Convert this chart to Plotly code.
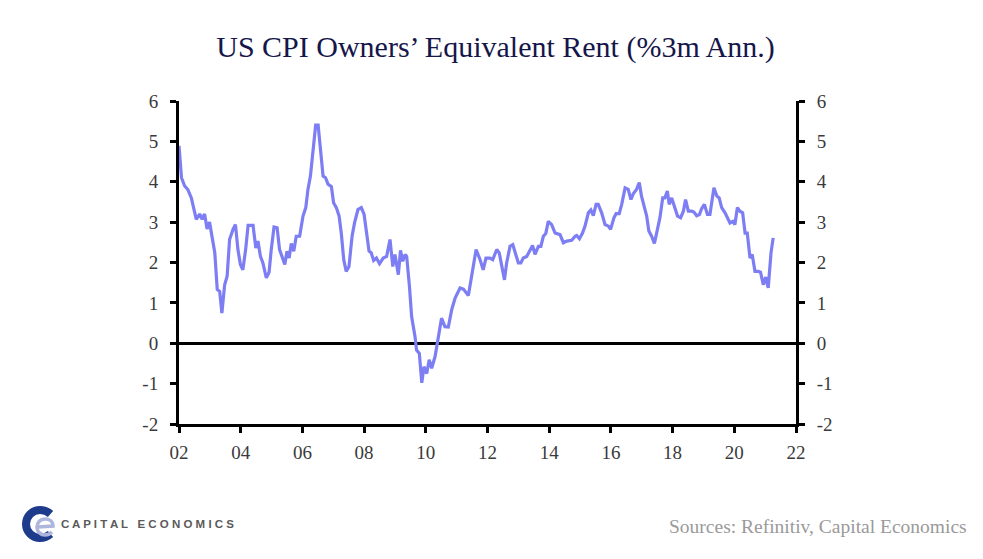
import plotly.graph_objects as go

# ---------- data (decimal years) ----------
years = [
    2002.00, 2002.08, 2002.18, 2002.29, 2002.40, 2002.56, 2002.67, 2002.75, 2002.83, 2002.91,
    2002.99, 2003.10, 2003.16, 2003.24, 2003.32, 2003.39, 2003.48, 2003.56, 2003.64, 2003.75,
    2003.83, 2003.91, 2003.99, 2004.07, 2004.16, 2004.24, 2004.40, 2004.49, 2004.56, 2004.64,
    2004.72, 2004.83, 2004.92, 2004.99, 2005.08, 2005.18, 2005.26, 2005.43, 2005.50, 2005.57,
    2005.64, 2005.72, 2005.80, 2005.91, 2006.02, 2006.11, 2006.18, 2006.26, 2006.34, 2006.43,
    2006.51, 2006.58, 2006.67, 2006.75, 2006.83, 2006.94, 2007.01, 2007.10, 2007.19, 2007.26,
    2007.34, 2007.42, 2007.51, 2007.61, 2007.69, 2007.80, 2007.91, 2008.00, 2008.07, 2008.16,
    2008.23, 2008.31, 2008.40, 2008.50, 2008.62, 2008.73, 2008.84, 2008.93, 2009.00, 2009.11,
    2009.18, 2009.25, 2009.33, 2009.38, 2009.47, 2009.54, 2009.65, 2009.70, 2009.79, 2009.87,
    2009.94, 2010.03, 2010.11, 2010.19, 2010.30, 2010.41, 2010.51, 2010.62, 2010.73, 2010.84,
    2010.95, 2011.11, 2011.22, 2011.38, 2011.49, 2011.63, 2011.76, 2011.86, 2011.95, 2012.08,
    2012.17, 2012.30, 2012.38, 2012.46, 2012.55, 2012.62, 2012.73, 2012.82, 2012.89, 2013.00,
    2013.08, 2013.16, 2013.27, 2013.36, 2013.46, 2013.54, 2013.65, 2013.73, 2013.81, 2013.89,
    2013.97, 2014.08, 2014.19, 2014.35, 2014.46, 2014.57, 2014.73, 2014.84, 2014.89, 2014.98,
    2015.08, 2015.16, 2015.27, 2015.35, 2015.43, 2015.52, 2015.59, 2015.70, 2015.81, 2015.92,
    2015.99, 2016.10, 2016.17, 2016.27, 2016.35, 2016.46, 2016.56, 2016.65, 2016.73, 2016.83,
    2016.92, 2016.99, 2017.07, 2017.16, 2017.23, 2017.32, 2017.41, 2017.48, 2017.59, 2017.68,
    2017.75, 2017.83, 2017.89, 2017.97, 2018.08, 2018.16, 2018.26, 2018.35, 2018.42, 2018.51,
    2018.62, 2018.69, 2018.78, 2018.87, 2018.94, 2019.03, 2019.13, 2019.21, 2019.34, 2019.43,
    2019.51, 2019.59, 2019.70, 2019.77, 2019.86, 2019.95, 2020.02, 2020.10, 2020.18, 2020.27,
    2020.35, 2020.42, 2020.51, 2020.58, 2020.67, 2020.78, 2020.85, 2020.94, 2021.02, 2021.10,
    2021.19, 2021.26,
]
oer = [
    4.89, 4.10, 3.90, 3.80, 3.60, 3.07, 3.20, 3.07, 3.20, 2.83,
    3.00, 2.49, 2.24, 1.33, 1.28, 0.75, 1.45, 1.66, 2.57, 2.82,
    2.94, 2.32, 1.95, 1.82, 2.32, 2.92, 2.92, 2.36, 2.53, 2.15,
    1.99, 1.62, 1.76, 2.32, 2.88, 2.86, 2.32, 1.95, 2.28, 2.11,
    2.47, 2.28, 2.65, 2.65, 3.15, 3.36, 3.81, 4.14, 4.80, 5.40,
    5.40, 4.89, 4.14, 4.10, 3.94, 3.88, 3.48, 3.36, 3.15, 2.73,
    2.07, 1.78, 1.90, 2.65, 2.98, 3.31, 3.36, 3.19, 2.73, 2.28,
    2.24, 2.05, 2.11, 1.97, 2.11, 2.15, 2.57, 1.90, 2.20, 1.70,
    2.30, 2.03, 2.20, 2.15, 1.41, 0.66, 0.17, -0.17, -0.25, -0.98,
    -0.58, -0.75, -0.41, -0.62, -0.33, 0.17, 0.62, 0.41, 0.40, 0.83,
    1.12, 1.37, 1.34, 1.18, 1.66, 2.32, 2.07, 1.82, 2.11, 2.11,
    2.07, 2.32, 2.24, 1.90, 1.57, 1.99, 2.40, 2.44, 2.24, 1.99,
    1.99, 2.11, 2.15, 2.28, 2.42, 2.20, 2.40, 2.40, 2.65, 2.72,
    3.02, 2.94, 2.73, 2.69, 2.49, 2.53, 2.55, 2.65, 2.67, 2.59,
    2.73, 2.90, 3.23, 3.30, 3.16, 3.44, 3.44, 3.23, 2.94, 2.90,
    2.82, 3.11, 3.21, 3.21, 3.44, 3.85, 3.81, 3.56, 3.71, 3.81,
    3.98, 3.65, 3.44, 3.15, 2.78, 2.65, 2.47, 2.73, 3.11, 3.60,
    3.60, 3.77, 3.44, 3.60, 3.36, 3.15, 3.11, 3.27, 3.56, 3.27,
    3.27, 3.25, 3.16, 3.19, 3.33, 3.44, 3.19, 3.19, 3.85, 3.65,
    3.60, 3.36, 3.23, 3.11, 2.98, 3.02, 2.94, 3.36, 3.27, 3.23,
    2.73, 2.73, 2.11, 2.20, 1.78, 1.78, 1.76, 1.45, 1.64, 1.37,
    2.24, 2.61,
]
x_ticks = [2002, 2004, 2006, 2008, 2010, 2012, 2014, 2016, 2018, 2020, 2022]
x_labels = ["02", "04", "06", "08", "10", "12", "14", "16", "18", "20", "22"]
y_ticks = [-2, -1, 0, 1, 2, 3, 4, 5, 6]
y_labels = ["-2", "-1", "0", "1", "2", "3", "4", "5", "6"]

SERIF = "Palatino Linotype, Book Antiqua, Liberation Serif, serif"

# plot area in reference pixels; the page body adds an 8px margin
OFF = 8
W, H = 983, 559
L, R, T, B = 179, 796, 101, 424


def px(x):
    return (x - L) / (R - L)


def py(y):
    return (B - y) / (B - T)


def path(cmds):
    """Build an SVG path in paper coords from pixel points."""
    out = []
    for c in cmds:
        letter, pts = c[0], c[1:]
        out.append(letter + " " + " ".join(f"{px(a)} {py(b)}" for a, b in pts))
    return " ".join(out)


fig = go.Figure()
fig.add_trace(go.Scatter(x=years, y=oer, mode="lines",
                         line=dict(color="#7e7ef4", width=3.2), showlegend=False))
# invisible trace to carry the right-hand axis
fig.add_trace(go.Scatter(x=[years[0]], y=[oer[0]], yaxis="y2", mode="lines",
                         line=dict(width=0), showlegend=False, hoverinfo="skip"))

axis_font = dict(family=SERIF, size=19, color="#3a3a3a")
y_common = dict(range=[-2, 6], tickvals=y_ticks, ticktext=y_labels, showgrid=False,
                showline=True, linecolor="black", linewidth=3, ticks="outside",
                ticklen=6, tickwidth=3, tickcolor="black", tickfont=axis_font,
                ticklabelstandoff=8)
fig.update_layout(
    width=W - OFF, height=H - OFF,
    margin=dict(l=L - OFF, r=W - R, t=T - OFF, b=H - B),
    paper_bgcolor="white", plot_bgcolor="white",
    title=dict(text="US CPI Owners’ Equivalent Rent (%3m Ann.)",
               x=0.5, xanchor="center", y=1 - (46 - OFF) / (H - OFF), yanchor="middle",
               font=dict(family=SERIF, size=30, color="#16164a")),
    xaxis=dict(range=[2002, 2022], tickvals=x_ticks, ticktext=x_labels,
               showgrid=False, zeroline=False, showline=True, linecolor="black",
               linewidth=3, ticks="outside", ticklen=6, tickwidth=3,
               tickcolor="black", tickfont=axis_font, ticklabelstandoff=3),
    yaxis=dict(**y_common, zeroline=True, zerolinecolor="black", zerolinewidth=3),
    yaxis2=dict(**y_common, overlaying="y", side="right", zeroline=False),
)

# ---------- footer: logo + sources ----------
fig.add_annotation(text="Sources: Refinitiv, Capital Economics",
                   xref="paper", yref="paper", x=px(969), y=py(526),
                   xanchor="right", yanchor="middle", showarrow=False,
                   font=dict(family=SERIF, size=19.5, color="#9a9a9a"))
fig.add_annotation(text="C A P I T A L   E C O N O M I C S",
                   xref="paper", yref="paper", x=px(59), y=py(524),
                   xanchor="left", yanchor="middle", showarrow=False,
                   font=dict(family="Liberation Sans, Arial, sans-serif",
                             size=11.5, color="#5a5a5a", weight="bold"))

# logo: navy "C" ring and a light "e" inside it
fig.add_shape(type="path", xref="paper", yref="paper",
              path=path([("M", (50.5, 514)), ("Q", (46, 510), (40, 510)),
                         ("C", (32.3, 510), (26, 516.3), (26, 524)),
                         ("C", (26, 531.7), (32.3, 538), (40, 538)),
                         ("Q", (46, 538), (50.5, 534))]),
              line=dict(color="#1f3b8c", width=8))
fig.add_shape(type="path", xref="paper", yref="paper",
              path=path([("M", (38, 527)), ("L", (53, 526)),
                         ("C", (53, 521), (49, 519), (45, 519)),
                         ("C", (40, 519), (37, 523), (37, 527)),
                         ("C", (37, 532), (41, 535), (45, 535)),
                         ("Q", (49, 535), (52, 532))]),
              line=dict(color="#aeb6de", width=3.5))

fig.write_html("out.html")
